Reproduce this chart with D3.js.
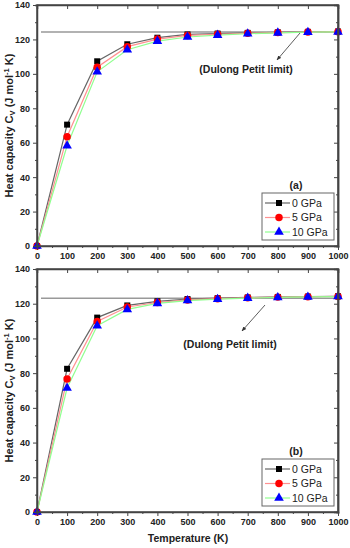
<!DOCTYPE html>
<html>
<head>
<meta charset="utf-8">
<script src="https://cdn.jsdelivr.net/npm/d3@7"></script>
<style>
  body { margin: 0; background: #fff; }
  text { font-family: "Liberation Sans", Arial, sans-serif; }
</style>
</head>
<body>
<svg id="drawing_region"></svg>
<script>
const temps = [0, 100, 200, 300, 400, 500, 600, 700, 800, 900, 1000];
const seriesNames = ["0 GPa", "5 GPa", "10 GPa"];

const cvA0 = [0, 70.5, 107.3, 117.2, 121.0, 122.9, 123.4, 123.8, 124.1, 124.4, 124.6];
const cvA5 = [0, 63.5, 103.9, 115.8, 120.2, 122.3, 123.0, 123.6, 124.0, 124.3, 124.5];
const cvA10 = [0, 58.2, 101.2, 114.0, 119.0, 121.4, 122.5, 123.3, 123.8, 124.2, 124.4];

const cvB0 = [0, 82.5, 112.0, 119.0, 121.4, 122.7, 123.2, 123.6, 123.9, 124.1, 124.3];
const cvB5 = [0, 76.6, 109.8, 118.1, 120.7, 122.2, 122.9, 123.4, 123.8, 124.0, 124.2];
const cvB10 = [0, 71.4, 107.3, 116.7, 120.2, 121.8, 122.6, 123.2, 123.6, 123.9, 124.1];

const limitA = 124.3;
const limitB = 123.2;
const xTicks = [0, 100, 200, 300, 400, 500, 600, 700, 800, 900, 1000];
const yTicks = [0, 20, 40, 60, 80, 100, 120, 140];

const styles = [
    { line: '#666', fill: '#000', shape: d3.symbolSquare, size: 36 },
    { line: '#ff9090', fill: '#ff0000', shape: d3.symbolCircle, size: 44 },
    { line: '#90ff90', fill: '#0000ff', shape: d3.symbolTriangle, size: 40 }
];

const svg = d3.select('#drawing_region').attr('width', 350).attr('height', 548);

function drawPanel(cfg) {
    const x = d3.scaleLinear().domain([0, 1000]).range([37, 338]);
    const y = d3.scaleLinear().domain([0, 140]).range([cfg.bottom, cfg.top]);
    const g = svg.append('g');

    const axisColor = '#444';

    // limit line
    g.append('line')
        .attr('x1', 41).attr('x2', x(1000))
        .attr('y1', y(cfg.limit)).attr('y2', y(cfg.limit))
        .attr('stroke', '#999').attr('stroke-width', 1.5);

    // series
    const line = d3.line().x((d, i) => x(temps[i])).y(d => y(d));
    cfg.series.forEach((s, k) => {
        g.append('path').datum(s)
            .attr('d', line)
            .attr('fill', 'none')
            .attr('stroke', styles[k].line)
            .attr('stroke-width', 1.2);
    });
    cfg.series.forEach((s, k) => {
        g.selectAll(null).data(s).enter().append('path')
            .attr('transform', (d, i) => `translate(${x(temps[i])},${y(d)})`)
            .attr('d', d3.symbol().type(styles[k].shape).size(styles[k].size))
            .attr('fill', styles[k].fill);
    });

    // axes
    const bottomAxis = d3.axisBottom(x).tickValues(xTicks).tickSize(4).tickPadding(3).tickFormat(d3.format('d'));
    const leftAxis = d3.axisLeft(y).tickValues(yTicks).tickSize(4).tickPadding(3);
    const minorX = d3.range(50, 1000, 100);
    const minorY = d3.range(10, 140, 20);

    const gx = g.append('g').attr('transform', `translate(0,${cfg.bottom})`).call(bottomAxis);
    const gy = g.append('g').attr('transform', `translate(37,0)`).call(leftAxis);
    g.append('g').attr('transform', `translate(0,${cfg.bottom})`)
        .call(d3.axisBottom(x).tickValues(minorX).tickSize(2).tickFormat(''));
    g.append('g').attr('transform', `translate(37,0)`)
        .call(d3.axisLeft(y).tickValues(minorY).tickSize(2).tickFormat(''));
    g.append('g').attr('transform', `translate(0,${cfg.top})`)
        .call(d3.axisBottom(x).tickValues(xTicks).tickSize(4).tickFormat(''));
    g.append('g').attr('transform', `translate(338,0)`)
        .call(d3.axisLeft(y).tickValues(yTicks).tickSize(4).tickFormat(''));
    g.append('g').attr('transform', `translate(338,0)`)
        .call(d3.axisLeft(y).tickValues(minorY).tickSize(2).tickFormat(''));

    g.selectAll('.domain').attr('stroke', axisColor).attr('stroke-width', 1.5);
    g.selectAll('.tick line').attr('stroke', axisColor);
    g.selectAll('.tick text').attr('font-size', 9).attr('font-weight', 'bold').attr('fill', '#222');
    gx.select('.domain').remove();
    gy.select('.domain').remove();
    g.append('rect')
        .attr('x', 37).attr('y', cfg.top)
        .attr('width', 338 - 37).attr('height', cfg.bottom - cfg.top)
        .attr('fill', 'none').attr('stroke', axisColor).attr('stroke-width', 1.5);

    // y label
    const yl = g.append('text')
        .attr('transform', `translate(13,${(cfg.top + cfg.bottom) / 2}) rotate(-90)`)
        .attr('text-anchor', 'middle')
        .attr('font-size', 11).attr('font-weight', 'bold').attr('fill', '#222');
    yl.append('tspan').text('Heat capacity C');
    yl.append('tspan').attr('font-size', 7.5).attr('dy', 2).text('V');
    yl.append('tspan').attr('dy', -2).text(' (J mol');
    yl.append('tspan').attr('font-size', 7.5).attr('dy', -4).text('-1');
    yl.append('tspan').attr('dy', 4).text(' K)');

    // annotation
    g.append('line')
        .attr('x1', cfg.arrow[0]).attr('y1', cfg.arrow[1])
        .attr('x2', cfg.arrow[2]).attr('y2', cfg.arrow[3])
        .attr('stroke', '#333').attr('stroke-width', 0.8)
        .attr('marker-end', 'url(#arrowhead)');
    g.append('text')
        .attr('x', cfg.label[0]).attr('y', cfg.label[1])
        .attr('text-anchor', 'middle')
        .attr('font-size', 10.5).attr('font-weight', 'bold').attr('fill', '#222')
        .text('(Dulong Petit limit)');

    // panel tag + legend
    g.append('text')
        .attr('x', 296).attr('y', cfg.legendTop - 4)
        .attr('text-anchor', 'middle')
        .attr('font-size', 10.5).attr('font-weight', 'bold').attr('fill', '#222')
        .text(cfg.tag);
    g.append('rect')
        .attr('x', 262).attr('y', cfg.legendTop)
        .attr('width', 72).attr('height', 47)
        .attr('fill', '#fff').attr('stroke', '#666').attr('stroke-width', 1);
    seriesNames.forEach((name, k) => {
        const ly = cfg.legendTop + 10 + k * 14.5;
        g.append('line').attr('x1', 265).attr('x2', 290).attr('y1', ly).attr('y2', ly)
            .attr('stroke', styles[k].line).attr('stroke-width', 1.2);
        g.append('path').attr('transform', `translate(279,${ly})`)
            .attr('d', d3.symbol().type(styles[k].shape).size(styles[k].size))
            .attr('fill', styles[k].fill);
        g.append('text').attr('x', 292).attr('y', ly + 3.5)
            .attr('font-size', 10.5).attr('fill', '#222').text(name);
    });
}

svg.append('defs').append('marker')
    .attr('id', 'arrowhead').attr('viewBox', '0 0 10 10')
    .attr('refX', 9).attr('refY', 5)
    .attr('markerWidth', 6).attr('markerHeight', 6)
    .attr('orient', 'auto')
    .append('path').attr('d', 'M0,1 L10,5 L0,9 Z').attr('fill', '#333');

drawPanel({ top: 5, bottom: 246, series: [cvA0, cvA5, cvA10], limit: limitA, tag: '(a)',
    legendTop: 193, arrow: [300, 33, 277, 60], label: [246, 73] });
drawPanel({ top: 269, bottom: 512, series: [cvB0, cvB5, cvB10], limit: limitB, tag: '(b)',
    legendTop: 459, arrow: [265, 305, 242, 331], label: [230, 348] });

svg.append('text')
    .attr('x', 188).attr('y', 542)
    .attr('text-anchor', 'middle')
    .attr('font-size', 10.5).attr('font-weight', 'bold').attr('fill', '#222')
    .text('Temperature (K)');
</script>
</body>
</html>
